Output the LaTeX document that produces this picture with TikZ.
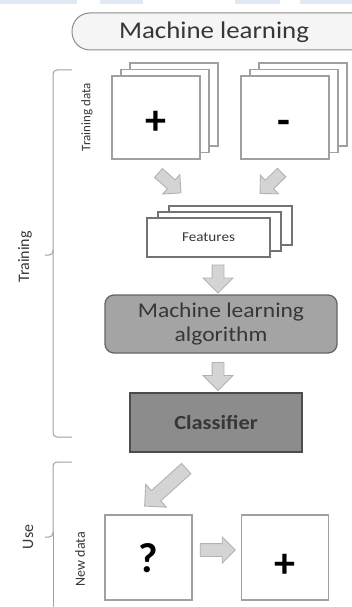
\documentclass[tikz,border=0pt]{standalone}
\usepackage{fontspec}
\setmainfont{Carlito}
\newfontfamily\widefont{Carlito}[FakeStretch=1.12]
\usetikzlibrary{shapes.arrows,positioning}

\definecolor{stripblue}{RGB}{224,233,243}
\definecolor{linegray}{RGB}{160,160,160}
\definecolor{arrowfill}{RGB}{212,212,212}
\definecolor{arrowline}{RGB}{178,178,178}
\definecolor{algofill}{RGB}{164,164,164}
\definecolor{clffill}{RGB}{140,140,140}
\definecolor{textgray}{RGB}{55,55,55}

\tikzstyle{page} = [rectangle, draw=linegray, fill=white, line width=1.3pt, inner sep=0pt, minimum width=88pt, minimum height=83pt]
\tikzstyle{featpage} = [page, draw=black!55, minimum width=123pt, minimum height=39pt]
\tikzstyle{pill} = [rectangle, rounded corners=18pt, draw=black!45, fill=black!4, line width=1pt, minimum width=300pt, minimum height=37pt]
\tikzstyle{stepbox} = [rectangle, line width=1.3pt, text=textgray, align=center]
\tikzstyle{flowarrow} = [single arrow, draw=arrowline, fill=arrowfill, line width=0.9pt, inner xsep=0pt, inner ysep=5.5pt, single arrow head extend=7pt, minimum height=30pt]
\tikzstyle{bracket} = [draw=linegray, line width=1pt, rounded corners=4pt]
\tikzstyle{sidelabel} = [rotate=90, text=textgray]
\tikzstyle{signtext} = [anchor=base, inner sep=0pt, font=\fontsize{42}{42}\selectfont\bfseries]

\begin{document}
\begin{tikzpicture}[x=1pt, y=-1pt]
\useasboundingbox (0,0) rectangle (352,607);

% strips at the top edge
\fill[stripblue] (0,0) rectangle (77,4);
\fill[stripblue] (100,0) rectangle (143,4);
\fill[stripblue] (235,0) rectangle (280,4);
\fill[stripblue] (300,0) rectangle (352,4);

% title
\node (title) [pill] at (222,31.5) {};
\node (titletext) [text=textgray, font=\widefont\fontsize{24}{28}\selectfont] at (214,32) {Machine learning};

% training data
\node (posback2) [page] at (174,104.5) {};
\node (posback1) [page] at (165,111) {};
\node (pos) [page] at (156,117.5) {};
\node [signtext] at (156,134) {+};

\node (negback2) [page] at (303,104.5) {};
\node (negback1) [page] at (294,111) {};
\node (neg) [page] at (285,117.5) {};
\node [signtext] at (284,134) {-};

\node [sidelabel, font=\fontsize{13}{15}\selectfont] at (87,117) {Training data};

% features
\node (featback2) [featpage] at (230.5,225.5) {};
\node (featback1) [featpage] at (219.5,231.5) {};
\node (feat) [featpage, text=textgray, font=\widefont\fontsize{13.5}{15}\selectfont] at (208.5,237.5) {Features};

% algorithm and classifier
\node (algo) [stepbox, draw=black!60, fill=algofill, rounded corners=9pt, minimum width=232pt, minimum height=58pt, font=\widefont\fontsize{21}{24}\selectfont] at (221,324) {Machine learning\\algorithm};
\node (clf) [stepbox, draw=black!70, fill=clffill, minimum width=172pt, minimum height=59pt, font=\widefont\fontsize{20}{22}\selectfont\bfseries] at (216,422.5) {Classifier};

% new data
\node (query) [page, minimum width=87pt, minimum height=85pt] at (148.5,557.5) {};
\node [signtext] at (148,572) {?};
\node (result) [page, minimum width=87pt, minimum height=85pt] at (285,557.5) {};
\node [signtext] at (285,577) {+};
\node [sidelabel, font=\fontsize{14}{16}\selectfont] at (80,559) {New data};

% arrows
\node [flowarrow, rotate=-41.5] at (167.5,181) {};
\node [flowarrow, rotate=-136] at (273,181) {};
\node [flowarrow, rotate=-90, minimum height=28pt, single arrow head extend=9pt] at (218,276) {};
\node [flowarrow, rotate=-90, minimum height=28pt, single arrow head extend=9pt] at (218,373.5) {};
\node [flowarrow, rotate=-138, minimum height=56pt, inner ysep=6.5pt, single arrow head extend=8.5pt] at (168,485) {};
\node [flowarrow, minimum height=35pt, inner ysep=6pt, single arrow head extend=6.5pt] at (214.5,550) {};

% brackets
\draw[bracket] (72,70) -- (53,70) -- (53,255) -- (45,255);
\draw[bracket] (53,250) -- (53,437) -- (72,437);
\node [sidelabel, font=\fontsize{16}{18}\selectfont] at (25,257) {Training};

\draw[bracket] (72,462) -- (53,462) -- (53,537) -- (45,537);
\draw[bracket] (53,532) -- (53,610);
\node [sidelabel, font=\fontsize{16}{18}\selectfont] at (28,537) {Use};
\end{tikzpicture}
\end{document}
